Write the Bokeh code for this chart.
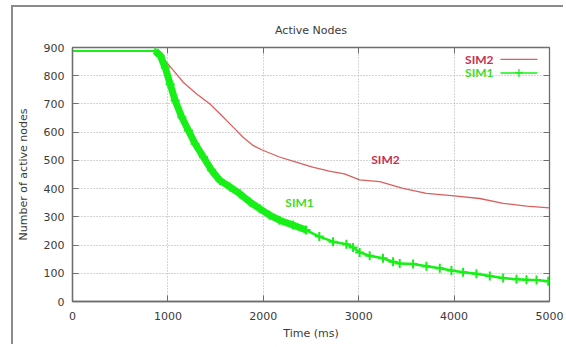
from bokeh.plotting import figure
from bokeh.models import LinearAxis, Range1d, FixedTicker, Label, CustomJSTickFormatter
from bokeh.embed import file_html
from bokeh.resources import INLINE

# ---- data ----
sim1_t = [0, 200, 400, 600, 800, 868, 920, 972, 1024, 1076, 1146, 1215, 1285, 1372,
          1458, 1545, 1649, 1753, 1858, 1962, 2066, 2170, 2309, 2448, 2587, 2731,
          2871, 2941, 3010, 3115, 3255, 3360, 3430, 3570, 3710, 3850, 3972, 4094,
          4234, 4374, 4514, 4654, 4759, 4864, 4986]
sim1_n = [888, 888, 888, 888, 888, 888, 871, 829, 770, 712, 653, 606, 559, 512,
          465, 429, 406, 382, 353, 329, 306, 288, 271, 253, 230, 212,
          203, 191, 174, 162, 153, 141, 135, 133, 125, 118, 110, 104,
          98, 90, 83, 79, 77, 76, 72]

sim2_t = [0, 400, 800, 940, 972, 1059, 1163, 1302, 1441, 1563, 1684, 1788, 1892,
          2000, 2170, 2344, 2517, 2691, 2850, 3010, 3220, 3465, 3710, 4000, 4269,
          4514, 4759, 5000]
sim2_n = [888, 888, 888, 880, 853, 818, 776, 735, 700, 659, 618, 582, 553,
          535, 512, 494, 476, 462, 452, 431, 425, 401, 383, 374, 365,
          348, 338, 332]

x_ticks = [0, 1000, 2000, 3000, 4000, 5000]
y_ticks = [0, 100, 200, 300, 400, 500, 600, 700, 800, 900]

GREEN = "#17f017"
RED = "#d9605e"
RED_TXT = "#c8304e"
GREEN_TXT = "#3ddc2a"
AX = "#6e6e6e"
TXT = "#3a3a3a"
FONT = "DejaVu Sans"

p = figure(width=552, height=339, output_backend="svg", toolbar_location=None,
           x_range=Range1d(0, 5000), y_range=Range1d(0, 900),
           min_border_left=59, min_border_right=16, min_border_top=40,
           min_border_bottom=45, title="Active Nodes")
p.styles = {"border-top": "2px solid #8a8a8a", "border-left": "2px solid #8a8a8a",
            "margin-top": "5px", "margin-left": "11px"}

p.title.align = "center"
p.title.text_font = FONT
p.title.text_font_size = "11px"
p.title.text_font_style = "normal"
p.title.text_color = TXT
p.title.standoff = 21

p.outline_line_color = AX
p.outline_line_width = 1.3
p.background_fill_color = "white"
p.border_fill_color = None

# axes
for ax in p.xaxis + p.yaxis:
    ax.axis_line_color = AX
    ax.axis_line_width = 1.3
    ax.major_tick_line_color = AX
    ax.major_tick_in = 6
    ax.major_tick_out = 0
    ax.minor_tick_line_color = None
    ax.major_label_text_font = FONT
    ax.major_label_text_font_size = "11px"
    ax.major_label_text_color = TXT
    ax.axis_label_text_font = FONT
    ax.axis_label_text_font_size = "11px"
    ax.axis_label_text_font_style = "normal"
    ax.axis_label_text_color = TXT

p.xaxis.ticker = FixedTicker(ticks=x_ticks)
p.yaxis.ticker = FixedTicker(ticks=y_ticks)
p.xaxis.axis_label = "Time (ms)"
p.yaxis.axis_label = "Number of active nodes"
p.xaxis.major_label_standoff = 10
p.yaxis.major_label_standoff = 8
p.xaxis.axis_label_standoff = 4
p.yaxis.axis_label_standoff = 11

blank = CustomJSTickFormatter(code="return ''")
top = LinearAxis(ticker=FixedTicker(ticks=x_ticks), formatter=blank,
                 axis_line_color=None, major_tick_line_color=AX, major_tick_in=6,
                 major_tick_out=0, minor_tick_line_color=None, major_label_standoff=0)
right = LinearAxis(ticker=FixedTicker(ticks=y_ticks), formatter=blank,
                   axis_line_color=None, major_tick_line_color=AX, major_tick_in=6,
                   major_tick_out=0, minor_tick_line_color=None, major_label_standoff=0)
p.add_layout(top, "above")
p.add_layout(right, "right")

p.xgrid.ticker = FixedTicker(ticks=x_ticks)
p.ygrid.ticker = FixedTicker(ticks=y_ticks)
p.grid.grid_line_color = "#a8a8a8"
p.grid.grid_line_dash = "1 2"
p.grid.grid_line_width = 1

# SIM2
p.line(sim2_t, sim2_n, color=RED, line_width=1.3)

# SIM1: dense part drawn as thick band, tail thinner, crosses at points
k = 24
p.line(sim1_t[:6], sim1_n[:6], color=GREEN, line_width=2)
p.line(sim1_t[5:k], sim1_n[5:k], color=GREEN, line_width=7)
p.line(sim1_t[k - 1:], sim1_n[k - 1:], color=GREEN, line_width=2.5)
p.scatter(sim1_t[5:], sim1_n[5:], marker="cross", size=9, line_color=GREEN,
          line_width=2)

# in-plot labels
p.add_layout(Label(x=3281, y=502, text="SIM2", text_color=RED_TXT, text_font="Lato",
                   text_font_style="bold", text_font_size="12px",
                   text_align="center", text_baseline="middle"))
p.add_layout(Label(x=2380, y=352, text="SIM1", text_color=GREEN_TXT, text_font="Lato",
                   text_font_style="bold", text_font_size="12px",
                   text_align="center", text_baseline="middle"))

# legend (gnuplot style: text then sample)
leg_y2, leg_y1 = 858, 810
p.add_layout(Label(x=4413, y=leg_y2, text="SIM2", text_color=RED_TXT, text_font="Lato",
                   text_font_style="bold", text_font_size="12px",
                   text_align="right", text_baseline="middle"))
p.add_layout(Label(x=4413, y=leg_y1, text="SIM1", text_color=GREEN_TXT, text_font="Lato",
                   text_font_style="bold", text_font_size="12px",
                   text_align="right", text_baseline="middle"))
p.line([4486, 4874], [leg_y2, leg_y2], color=RED, line_width=1.3)
p.line([4486, 4874], [leg_y1, leg_y1], color=GREEN, line_width=1.5)
p.scatter([4680], [leg_y1], marker="cross", size=8, line_color=GREEN, line_width=1.3)

open("out.html", "w").write(file_html(p, INLINE))
